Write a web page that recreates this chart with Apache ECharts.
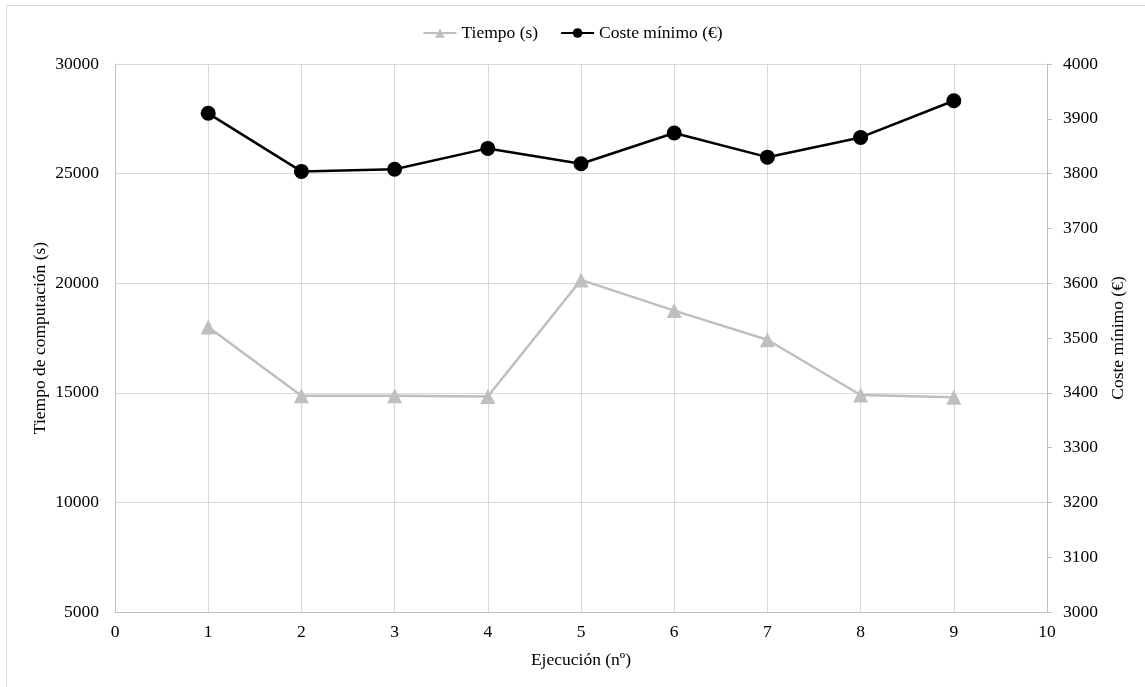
<!DOCTYPE html>
<html>
<head>
<meta charset="utf-8">
<script src="https://cdn.jsdelivr.net/npm/echarts@6/dist/echarts.min.js"></script>
<style>html,body{margin:0;padding:0;background:#fff}#c{width:1145px;height:687px}</style>
</head>
<body>
<div id="c"></div>
<script>
const ejecucion = [1, 2, 3, 4, 5, 6, 7, 8, 9];
const tiempo = [18000, 14870, 14860, 14830, 20150, 18750, 17420, 14900, 14800];
const coste = [3910, 3804, 3808, 3846, 3818, 3874, 3830, 3866, 3933];
const seriesNames = ['Tiempo (s)', 'Coste mínimo (€)'];
const xAxisName = 'Ejecución (nº)';
const leftAxisName = 'Tiempo de computación (s)';
const rightAxisName = 'Coste mínimo (€)';

const font = 'Liberation Serif';
const fs = 17.5;
const plain = v => String(v);
const chart = echarts.init(document.getElementById('c'), null, {renderer: 'canvas'});
chart.setOption({
  backgroundColor: '#fff',
  animation: false,
  textStyle: {fontFamily: font},
  graphic: [{
    type: 'rect', silent: true, z: -10,
    shape: {x: 6.5, y: 5.5, width: 1150, height: 700},
    style: {fill: 'none', stroke: '#d9d9d9', lineWidth: 1}
  }],
  legend: {
    top: 19, left: 'center',
    itemWidth: 33, itemHeight: 12, itemGap: 22,
    textStyle: {fontFamily: font, fontSize: fs, color: '#000'},
    data: seriesNames
  },
  grid: {left: 115, right: 98, top: 64, bottom: 75, containLabel: false},
  xAxis: {
    type: 'value', min: 0, max: 10, interval: 1,
    name: xAxisName, nameLocation: 'middle', nameGap: 39, nameMoveOverlap: false,
    nameTextStyle: {fontFamily: font, fontSize: fs, color: '#000'},
    axisLine: {show: true, lineStyle: {color: '#bfbfbf', width: 1}},
    axisTick: {show: false},
    axisLabel: {fontFamily: font, fontSize: fs, color: '#000', margin: 11, formatter: plain},
    splitLine: {show: true, lineStyle: {color: '#d9d9d9', width: 1}}
  },
  yAxis: [{
    type: 'value', min: 5000, max: 30000, interval: 5000, position: 'left',
    name: leftAxisName, nameLocation: 'middle', nameGap: 66, nameMoveOverlap: false,
    nameTextStyle: {fontFamily: font, fontSize: fs, color: '#000'},
    axisLine: {show: true, lineStyle: {color: '#bfbfbf', width: 1}},
    axisTick: {show: false},
    axisLabel: {fontFamily: font, fontSize: fs, color: '#000', margin: 16, formatter: plain},
    splitLine: {show: true, lineStyle: {color: '#d9d9d9', width: 1}}
  }, {
    type: 'value', min: 3000, max: 4000, interval: 100, position: 'right',
    name: rightAxisName, nameLocation: 'middle', nameGap: 62, nameMoveOverlap: false,
    nameTextStyle: {fontFamily: font, fontSize: fs, color: '#000'},
    axisLine: {show: true, lineStyle: {color: '#bfbfbf', width: 1}},
    axisTick: {show: true, length: 5, lineStyle: {color: '#bfbfbf'}},
    axisLabel: {fontFamily: font, fontSize: fs, color: '#000', margin: 16, formatter: plain},
    splitLine: {show: false}
  }],
  series: [{
    name: seriesNames[0], type: 'line', yAxisIndex: 0,
    data: ejecucion.map((x, i) => [x, tiempo[i]]),
    symbol: 'triangle', symbolSize: 15,
    lineStyle: {color: '#bfbfbf', width: 2.5},
    itemStyle: {color: '#bfbfbf'},
    z: 2
  }, {
    name: seriesNames[1], type: 'line', yAxisIndex: 1,
    data: ejecucion.map((x, i) => [x, coste[i]]),
    symbol: 'circle', symbolSize: 15,
    lineStyle: {color: '#000', width: 2.5},
    itemStyle: {color: '#000'},
    z: 3
  }]
});
</script>
</body>
</html>
